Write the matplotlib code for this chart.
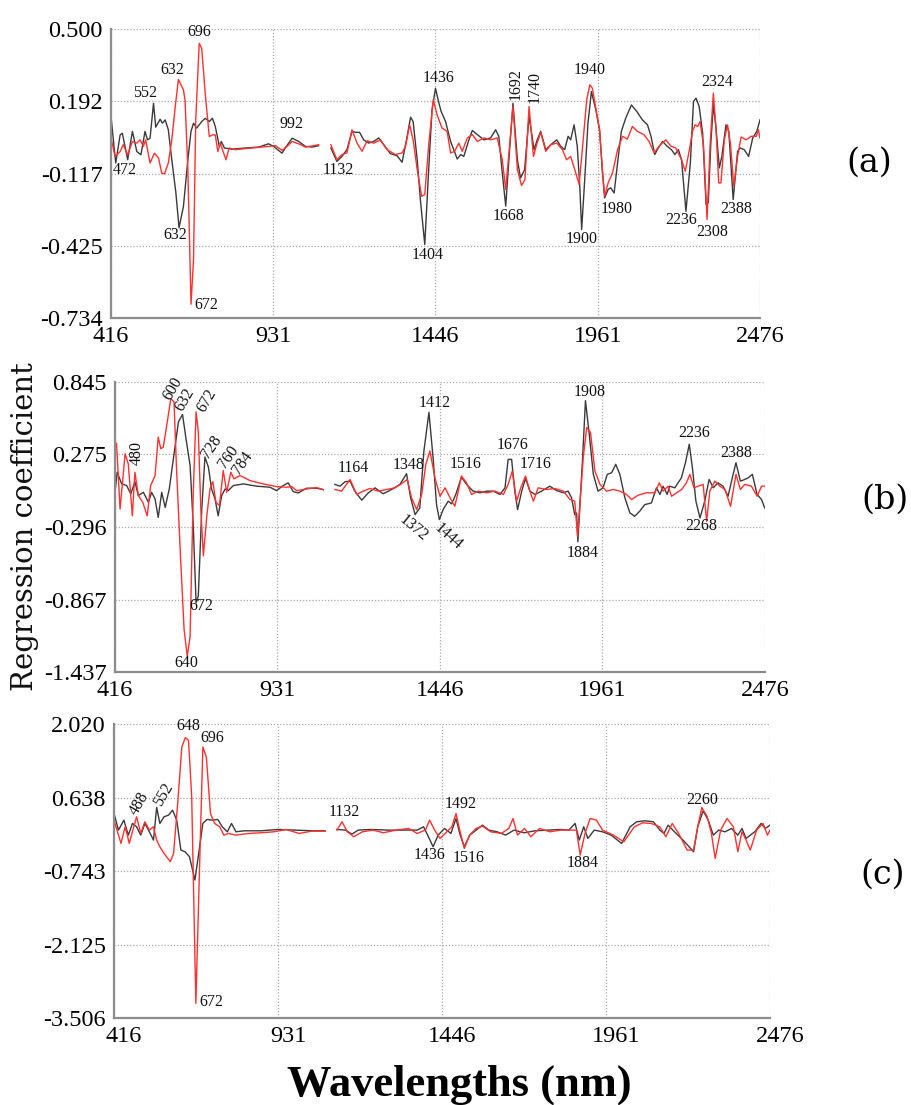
import matplotlib
matplotlib.use("Agg")
import matplotlib.pyplot as plt
import matplotlib.transforms as mtransforms

plt.rcParams['font.family'] = ['Liberation Serif', 'DejaVu Serif']

# ---------------- panel (a) ----------------
a_black_wl = [416, 431, 445, 452, 469, 484, 498, 511, 524, 532, 540, 551, 558, 572, 579, 588, 598, 609, 622, 632,
              646, 660, 670, 678, 688, 704, 715, 728, 738, 747, 760, 766, 776, 800, 842, 885, 916, 932, 959, 969,
              991, 1012, 1033, 1054, 1075,
              1114, 1133, 1149, 1165, 1181, 1192, 1205, 1218, 1234, 1250, 1266, 1282, 1303, 1324, 1340, 1354, 1367, 1375, 1388, 1398,
              1412, 1425, 1435, 1446, 1457, 1464, 1478, 1494, 1504, 1515, 1526, 1536, 1552, 1563, 1579, 1600, 1621, 1637, 1647, 1658,
              1669, 1679, 1692, 1706, 1716, 1729, 1743, 1759, 1769, 1780, 1796, 1812,
              1831, 1843, 1856, 1867, 1875, 1886, 1896, 1904, 1910, 1921, 1930, 1941, 1955, 1967, 1976, 1983, 1994, 2002, 2013, 2024,
              2036, 2050, 2068, 2085, 2103, 2119, 2130, 2142, 2153, 2167, 2181, 2195, 2206, 2217, 2227, 2241, 2255, 2265, 2273, 2283,
              2294, 2305, 2312, 2320, 2328, 2336, 2347, 2355, 2368, 2377, 2391, 2405, 2413, 2426, 2440, 2453, 2466, 2476]
a_black = [0.127, -0.072, 0.048, 0.055, -0.058, 0.063, -0.023, -0.037, 0.063, 0.027, 0.034, 0.183, 0.081, 0.115, 0.098, 0.112, 0.070, -0.058, -0.200, -0.349,
           -0.257, -0.058, 0.063, 0.098, 0.077, 0.105, 0.119, 0.105, 0.119, 0.084, -0.001, 0.020, -0.008, -0.013, -0.008, -0.004, 0.010, -0.001, -0.030, -0.008,
           0.034, 0.020, -0.001, -0.004, 0.002,
           -0.008, -0.065, -0.044, -0.015, 0.063, 0.059, 0.059, 0.027, 0.013, 0.020, 0.035, 0.006, -0.032, -0.041, -0.069, 0.027, 0.124, 0.105, -0.058, -0.228,
           -0.420, -0.086, 0.155, 0.247, 0.183, 0.148, 0.105, 0.020, -0.015, -0.055, -0.036, -0.044, 0.027, 0.067, 0.049, 0.027, 0.035, 0.070, 0.042, -0.114,
           -0.256, -0.058, 0.183, -0.058, -0.136, -0.100, 0.127, -0.015, 0.027, 0.063, -0.015, 0.006,
           0.027, 0.000, -0.015, 0.042, 0.027, 0.091, 0.000, -0.171, -0.356, -0.114, 0.098, 0.233, 0.155, 0.070, -0.114, -0.221, -0.185, -0.178, -0.200, -0.072,
           0.063, 0.120, 0.176, 0.148, 0.112, 0.091, 0.042, -0.036, -0.008, 0.020, 0.000, -0.015, -0.036, -0.015, -0.058, -0.278, -0.072, 0.191, 0.205, 0.169,
           0.056, -0.249, -0.242, 0.013, 0.176, 0.084, -0.093, -0.044, 0.091, 0.063, -0.228, -0.022, -0.008, -0.015, -0.044, 0.035, 0.063, 0.112]
a_red_wl = [416, 429, 445, 455, 469, 484, 498, 508, 519, 526, 540, 554, 567, 577, 586, 598, 609, 620, 630, 646,
            651, 660, 670, 678, 685, 696, 704, 715, 728, 738, 747, 755, 763, 770, 781, 791, 810, 863, 916, 938,
            959, 975, 991, 1012, 1033, 1075,
            1114, 1133, 1149, 1165, 1181, 1197, 1213, 1229, 1250, 1271, 1292, 1319, 1340, 1351, 1364, 1375, 1388, 1402, 1412, 1425,
            1439, 1451, 1467, 1483, 1494, 1507, 1520, 1531, 1547, 1563, 1579, 1600, 1621, 1642, 1658, 1669, 1681, 1692, 1706, 1719,
            1730, 1743, 1757, 1767, 1780, 1796,
            1812, 1831, 1849, 1862, 1875, 1888, 1902, 1914, 1926, 1936, 1944, 1955, 1967, 1976, 1983, 1994, 2008, 2024, 2040, 2055,
            2071, 2087, 2108, 2124, 2140, 2156, 2177, 2193, 2209, 2227, 2239, 2252, 2262, 2270, 2278, 2286, 2297, 2308, 2318, 2328,
            2336, 2345, 2352, 2363, 2373, 2382, 2393, 2405, 2416, 2432, 2448, 2464, 2471, 2476]
a_red = [0.034, -0.044, -0.023, 0.006, -0.037, 0.020, 0.013, 0.027, -0.001, 0.027, -0.072, -0.030, -0.051, -0.115, -0.118, -0.072, 0.027, 0.169, 0.285, 0.240,
         0.197, -0.100, -0.675, -0.484, 0.112, 0.439, 0.417, 0.226, 0.041, 0.048, 0.048, -0.023, 0.013, -0.016, -0.058, -0.008, -0.015, -0.008, -0.001, 0.002,
         -0.018, -0.001, 0.020, 0.010, -0.004, 0.006,
         0.006, -0.058, -0.036, -0.029, 0.070, 0.013, -0.022, 0.023, 0.013, 0.027, -0.015, -0.036, -0.029, 0.000, 0.091, 0.027, -0.100, -0.214, -0.207, 0.013,
         0.198, 0.134, 0.077, 0.063, -0.029, -0.022, 0.013, -0.022, 0.035, 0.049, 0.020, 0.035, 0.027, 0.035, -0.058, -0.185, 0.000, 0.169, -0.100, -0.168,
         -0.143, 0.169, -0.044, 0.006, 0.059, -0.022,
         0.006, 0.013, -0.015, -0.058, -0.044, -0.100, -0.164, 0.013, 0.198, 0.262, 0.247, 0.162, 0.063, -0.100, -0.214, -0.157, -0.114, -0.015, 0.042, 0.030,
         0.084, 0.063, 0.049, 0.020, -0.029, 0.000, 0.027, 0.000, -0.008, -0.058, -0.107, -0.015, 0.063, 0.091, 0.084, 0.105, 0.000, -0.313, 0.013, 0.226,
         0.084, -0.157, -0.157, 0.027, 0.091, 0.013, -0.171, -0.044, 0.039, 0.027, 0.042, 0.042, 0.070, 0.035]
a_yticks = [-0.734, -0.425, -0.117, 0.192, 0.500]
# (text, wavelength, value, rotation)
a_labels = [("696", 696, 0.487, 0), ("632", 609, 0.325, 0), ("552", 524, 0.226, 0), ("472", 460, -0.100, 0),
            ("632", 619, -0.381, 0), ("672", 718, -0.678, 0), ("992", 988, 0.096, 0), ("1132", 1137, -0.101, 0),
            ("1404", 1420, -0.466, 0), ("1436", 1457, 0.290, 0), ("1692", 1702, 0.265, 90), ("1740", 1762, 0.252, 90),
            ("1940", 1936, 0.325, 0), ("1668", 1679, -0.299, 0), ("1900", 1910, -0.398, 0), ("1980", 2021, -0.267, 0),
            ("2236", 2227, -0.316, 0), ("2308", 2325, -0.365, 0), ("2324", 2339, 0.276, 0), ("2388", 2400, -0.267, 0)]

# ---------------- panel (b) ----------------
b_black_wl = [416, 423, 437, 453, 466, 479, 490, 506, 522, 532, 543, 553, 564, 575, 588, 601, 617, 630, 641, 654,
              664, 673, 680, 691, 701, 712, 722, 733, 743, 754, 765, 775, 791, 823, 865, 907, 928, 949, 965, 981,
              997, 1023, 1055, 1076,
              1113, 1129, 1145, 1161, 1176, 1198, 1219, 1240, 1266, 1293, 1319, 1340, 1353, 1367, 1382, 1395, 1411, 1425, 1435, 1444,
              1456, 1472, 1483, 1496, 1514, 1530, 1551, 1573, 1594, 1615, 1636, 1652, 1662, 1673, 1683, 1692, 1705, 1717, 1731, 1747,
              1768, 1794, 1815, 1837, 1852, 1863, 1873, 1879, 1883, 1898, 1907, 1919, 1932, 1947, 1963, 1976, 1990, 2003, 2016, 2032,
              2048, 2063, 2079, 2095, 2116, 2132, 2143, 2153, 2166, 2174, 2190, 2211, 2224, 2236, 2246, 2257, 2270, 2285, 2299, 2312,
              2327, 2343, 2359, 2370, 2384, 2398, 2412, 2423, 2436, 2451, 2465, 2475]
b_black = [-0.023, 0.135, 0.043, 0.030, -0.036, 0.061, -0.049, -0.023, -0.102, -0.023, -0.076, -0.221, -0.023, -0.142, 0.003, 0.241, 0.531, 0.589, 0.399, 0.188,
           -0.287, -0.893, -0.840, -0.155, 0.254, 0.175, 0.003, -0.076, -0.208, -0.049, 0.003, -0.010, 0.030, 0.043, 0.025, 0.017, -0.010, 0.030, 0.051, -0.018,
           -0.028, 0.009, 0.009, -0.002,
           0.039, 0.025, 0.060, 0.065, -0.014, -0.085, -0.027, 0.012, -0.035, -0.001, 0.039, 0.123, -0.067, -0.199, -0.146, 0.302, 0.606, 0.223, -0.120, -0.238,
           -0.159, -0.093, -0.114, -0.040, 0.097, 0.039, -0.014, -0.027, -0.014, -0.014, -0.040, 0.012, 0.236, 0.236, -0.014, -0.159, -0.014, 0.086, -0.014, -0.040,
           -0.014, 0.025, -0.009, -0.027, -0.014, -0.067, -0.199, -0.186, -0.412, 0.250, 0.698, 0.434, 0.118, -0.014, 0.012, 0.118, 0.131, 0.197, 0.118, -0.067,
           -0.186, -0.212, -0.172, -0.120, -0.107, 0.012, -0.040, 0.025, -0.040, 0.025, 0.012, 0.091, 0.210, 0.355, 0.170, -0.093, -0.225, -0.093, 0.078, 0.012,
           0.052, 0.025, -0.054, 0.065, 0.210, 0.065, 0.078, 0.091, 0.118, -0.040, -0.080, -0.146]
b_red_wl = [416, 421, 432, 448, 458, 471, 479, 490, 504, 518, 529, 543, 553, 561, 569, 580, 593, 603, 611, 624,
            635, 645, 654, 664, 673, 680, 688, 696, 707, 717, 726, 736, 747, 759, 770, 783, 793, 812, 844, 886,
            928, 960, 976, 992, 1023, 1055, 1076,
            1113, 1134, 1161, 1182, 1203, 1224, 1250, 1277, 1303, 1324, 1342, 1356, 1372, 1388, 1401, 1414, 1430, 1446, 1462, 1478,
            1493, 1504, 1514, 1530, 1546, 1567, 1594, 1620, 1647, 1662, 1675, 1689, 1702, 1717, 1731, 1742, 1757, 1784, 1810, 1837,
            1858, 1873, 1882, 1900, 1911, 1923, 1937, 1953, 1974, 1995, 2016, 2037, 2053, 2074, 2100, 2127, 2141, 2153, 2169, 2180,
            2196, 2212, 2227, 2238, 2251, 2264, 2280, 2291, 2301, 2317, 2333, 2349, 2367, 2384, 2398, 2412, 2433, 2451, 2465, 2475]
b_red = [0.373, 0.359, -0.155, 0.280, 0.201, -0.208, 0.135, -0.049, -0.102, -0.208, 0.030, 0.109, 0.412, 0.320, 0.333, 0.504, 0.715, 0.689, 0.162, -0.550,
         -1.104, -1.315, -1.157, -0.023, 0.610, 0.452, -0.155, -0.524, -0.208, 0.003, 0.061, -0.102, -0.128, 0.148, -0.023, 0.135, 0.083, 0.109, 0.069, 0.043,
         0.022, 0.017, 0.022, -0.010, 0.003, 0.014, -0.002,
         -0.001, -0.014, 0.078, -0.040, -0.014, 0.007, -0.014, -0.001, 0.012, 0.044, 0.078, -0.067, -0.159, -0.040, 0.197, 0.302, 0.091, -0.054, 0.012, -0.067,
         -0.133, -0.014, 0.105, 0.052, -0.040, -0.014, -0.027, -0.014, -0.040, 0.039, 0.144, -0.093, 0.012, 0.105, -0.014, -0.093, 0.012, -0.001, 0.007, -0.014,
         -0.080, -0.093, -0.370, 0.250, 0.487, 0.447, 0.144, 0.039, -0.014, -0.001, -0.014, -0.040, -0.080, -0.046, -0.027, -0.027, 0.052, -0.014, 0.025, -0.054,
         -0.027, -0.001, 0.052, 0.118, 0.012, 0.025, 0.039, -0.251, -0.014, 0.065, 0.025, -0.001, -0.133, 0.118, -0.001, 0.039, 0.025, -0.054, 0.025, 0.025]
b_yticks = [-1.437, -0.867, -0.296, 0.275, 0.845]
b_labels = [("600", 599, 0.795, 60), ("632", 638, 0.709, 60), ("672", 707, 0.698, 60), ("480", 485, 0.284, 90),
            ("728", 722, 0.331, 55), ("760", 775, 0.257, 55), ("784", 819, 0.205, 55), ("672", 691, -0.918, 0),
            ("640", 643, -1.369, 0), ("1164", 1171, 0.166, 0), ("1348", 1345, 0.192, 0), ("1412", 1430, 0.682, 0),
            ("1372", 1361, -0.306, -40), ("1444", 1472, -0.372, -42), ("1516", 1528, 0.197, 0), ("1676", 1676, 0.347, 0),
            ("1716", 1750, 0.197, 0), ("1908", 1921, 0.769, 0), ("1884", 1897, -0.498, 0), ("2236", 2251, 0.440, 0),
            ("2268", 2275, -0.286, 0), ("2388", 2386, 0.289, 0)]

# ---------------- panel (c) ----------------
c_black_wl = [416, 430, 447, 461, 474, 487, 500, 513, 527, 540, 550, 560, 573, 587, 600, 613, 626, 639, 653, 670,
              682, 695, 708, 726, 742, 756, 772, 785, 799, 825, 878, 931, 984, 1037, 1079,
              1116, 1143, 1163, 1183, 1222, 1275, 1328, 1368, 1388, 1401, 1418, 1434, 1454, 1474, 1490, 1503, 1516, 1533, 1553, 1573,
              1593, 1619, 1646, 1672, 1705, 1738, 1778, 1818, 1844, 1864, 1877, 1891, 1904, 1924, 1950, 1977, 2010, 2037, 2057, 2083,
              2110, 2130, 2143, 2156, 2176, 2203, 2236, 2249, 2266, 2282, 2298, 2315, 2335, 2355, 2375, 2388, 2401, 2428, 2448, 2461,
              2476]
c_black = [0.338, 0.026, 0.213, -0.068, 0.151, 0.088, -0.068, 0.151, -0.006, -0.162, 0.451, 0.151, 0.276, 0.307, 0.401, 0.213, -0.349, -0.381, -0.474, -0.912,
           -0.412, 0.151, 0.226, 0.213, 0.226, 0.088, -0.006, 0.151, -0.006, 0.013, 0.013, 0.038, 0.026, 0.013, 0.013,
           0.038, 0.026, -0.049, 0.026, 0.038, 0.026, 0.026, 0.026, 0.088, -0.068, -0.287, -0.068, 0.057, -0.037, 0.244, -0.068, -0.287, -0.068, 0.026, 0.119,
           0.026, -0.006, -0.068, 0.026, -0.024, 0.013, 0.026, 0.038, 0.026, 0.151, -0.162, 0.088, -0.131, 0.026, -0.006, -0.068, -0.224, 0.088, 0.182, 0.201,
           0.182, 0.026, -0.037, 0.119, -0.006, -0.162, -0.381, 0.088, 0.388, 0.213, -0.068, 0.026, -0.006, 0.057, -0.068, 0.057, -0.131, -0.006, 0.151, 0.057,
           0.119]
c_red_wl = [416, 427, 438, 451, 464, 478, 487, 500, 513, 527, 540, 550, 560, 573, 593, 603, 616, 629, 640, 650,
            660, 673, 695, 706, 719, 732, 748, 761, 775, 799, 839, 878, 918, 957, 997, 1037, 1079,
            1116, 1132, 1149, 1169, 1196, 1229, 1262, 1302, 1341, 1368, 1394, 1407, 1423, 1440, 1461, 1477, 1490, 1503, 1516, 1533,
            1553, 1573, 1599, 1632, 1656, 1669, 1683, 1705, 1725, 1752, 1785, 1818, 1851, 1868, 1880, 1895, 1911, 1931, 1950, 1984,
            2017, 2050, 2076, 2103, 2130, 2149, 2169, 2189, 2216, 2236, 2249, 2262, 2279, 2292, 2304, 2321, 2341, 2361, 2375, 2388,
            2401, 2414, 2434, 2454, 2468, 2476]
c_red = [0.213, -0.006, -0.224, 0.088, -0.224, 0.088, 0.276, -0.037, 0.182, 0.026, 0.088, -0.162, -0.287, -0.412, -0.568, -0.412, 0.526, 1.588, 1.763, 1.713,
         0.650, -3.230, 1.588, 1.400, 0.338, 0.151, 0.088, -0.068, -0.037, -0.068, -0.037, -0.024, -0.006, 0.038, -0.037, 0.006, 0.006,
         0.026, 0.182, -0.006, -0.099, -0.006, 0.026, -0.024, 0.026, 0.057, -0.037, 0.026, 0.213, 0.026, -0.131, -0.006, 0.088, 0.338, -0.006, -0.318, -0.068,
         0.057, 0.101, -0.006, -0.037, 0.057, 0.244, -0.068, 0.057, -0.099, 0.057, -0.006, 0.026, 0.026, 0.026, -0.443, -0.037, 0.244, 0.213, 0.026, -0.068,
         -0.193, 0.088, 0.163, 0.151, 0.088, -0.099, 0.151, -0.037, -0.349, -0.349, 0.088, 0.451, 0.276, -0.037, -0.506, 0.026, 0.244, 0.088, -0.381, -0.006,
         -0.162, -0.349, 0.026, 0.151, -0.068, 0.026]
c_yticks = [-3.506, -2.125, -0.743, 0.638, 2.020]
c_labels = [("648", 649, 1.982, 0), ("696", 723, 1.763, 0), ("488", 495, 0.529, 60), ("552", 571, 0.685, 60),
            ("672", 721, -3.211, 0), ("1132", 1139, 0.360, 0), ("1436", 1408, -0.442, 0), ("1492", 1506, 0.516, 0),
            ("1516", 1531, -0.493, 0), ("1884", 1887, -0.587, 0), ("2260", 2263, 0.591, 0)]

xticks = [416, 931, 1446, 1961, 2476]
gap = 1095  # spectrum not recorded between the two segments

BLACK = '#3a3a3a'
RED = '#ff3030'


def draw(ax, wl, vals, color):
    left = [(w, v) for w, v in zip(wl, vals) if w < gap]
    right = [(w, v) for w, v in zip(wl, vals) if w > gap]
    for seg in (left, right):
        ax.plot([p[0] for p in seg], [p[1] for p in seg], color=color, lw=1.0)


def style(ax, yticks):
    ax.set_xlim(xticks[0], xticks[-1])
    ax.set_ylim(yticks[0], yticks[-1])
    ax.set_xticks(xticks)
    ax.set_yticks(yticks)
    ax.set_yticklabels(['%.3f' % t for t in yticks])
    ax.tick_params(length=0, labelsize=17.5, pad=6)
    ax.grid(True, color='#a8a8a8', linestyle=(0, (1, 1.5)), lw=0.9)
    for s in ('top', 'right'):
        ax.spines[s].set_visible(False)
    for s in ('left', 'bottom'):
        ax.spines[s].set_color('#8c8c8c')
        ax.spines[s].set_linewidth(1.6)


fig = plt.figure(figsize=(9.12, 11.05), dpi=100)
ax_a = fig.add_axes([0.1217, 0.7122, 0.7116, 0.2615])
ax_b = fig.add_axes([0.1261, 0.3919, 0.7127, 0.2624])
ax_c = fig.add_axes([0.1250, 0.0787, 0.7193, 0.2661])

panels = [
    (ax_a, a_black_wl, a_black, a_red_wl, a_red, a_yticks, a_labels),
    (ax_b, b_black_wl, b_black, b_red_wl, b_red, b_yticks, b_labels),
    (ax_c, c_black_wl, c_black, c_red_wl, c_red, c_yticks, c_labels),
]
for ax, bwl, bv, rwl, rv, yt, labs in panels:
    style(ax, yt)
    draw(ax, bwl, bv, BLACK)
    draw(ax, rwl, rv, RED)
    for txt, x, y, rot in labs:
        ax.text(x, y, txt, fontsize=11.5, ha='center', va='center', rotation=rot,
                rotation_mode='anchor', clip_on=False, color='#111111')

# bottom panel tick labels sit a little to the right of their grid lines
shift = mtransforms.ScaledTranslation(10 / 100, 0, fig.dpi_scale_trans)
for lab in ax_c.get_xticklabels():
    lab.set_transform(lab.get_transform() + shift)

fig.text(0.953, 0.8525, '(a)', fontsize=24, family='DejaVu Serif', ha='center', va='center')
fig.text(0.970, 0.5475, '(b)', fontsize=24, family='DejaVu Serif', ha='center', va='center')
fig.text(0.968, 0.2081, '(c)', fontsize=24, family='DejaVu Serif', ha='center', va='center')

fig.text(0.027, 0.523, 'Regression coefficient', rotation=90, fontsize=21,
         family='DejaVu Serif', ha='center', va='center', color='#111111')
fig.text(0.504, 0.0181, 'Wavelengths (nm)', fontsize=32, fontweight='bold',
         ha='center', va='center')

fig.savefig('out.png', dpi=100)
